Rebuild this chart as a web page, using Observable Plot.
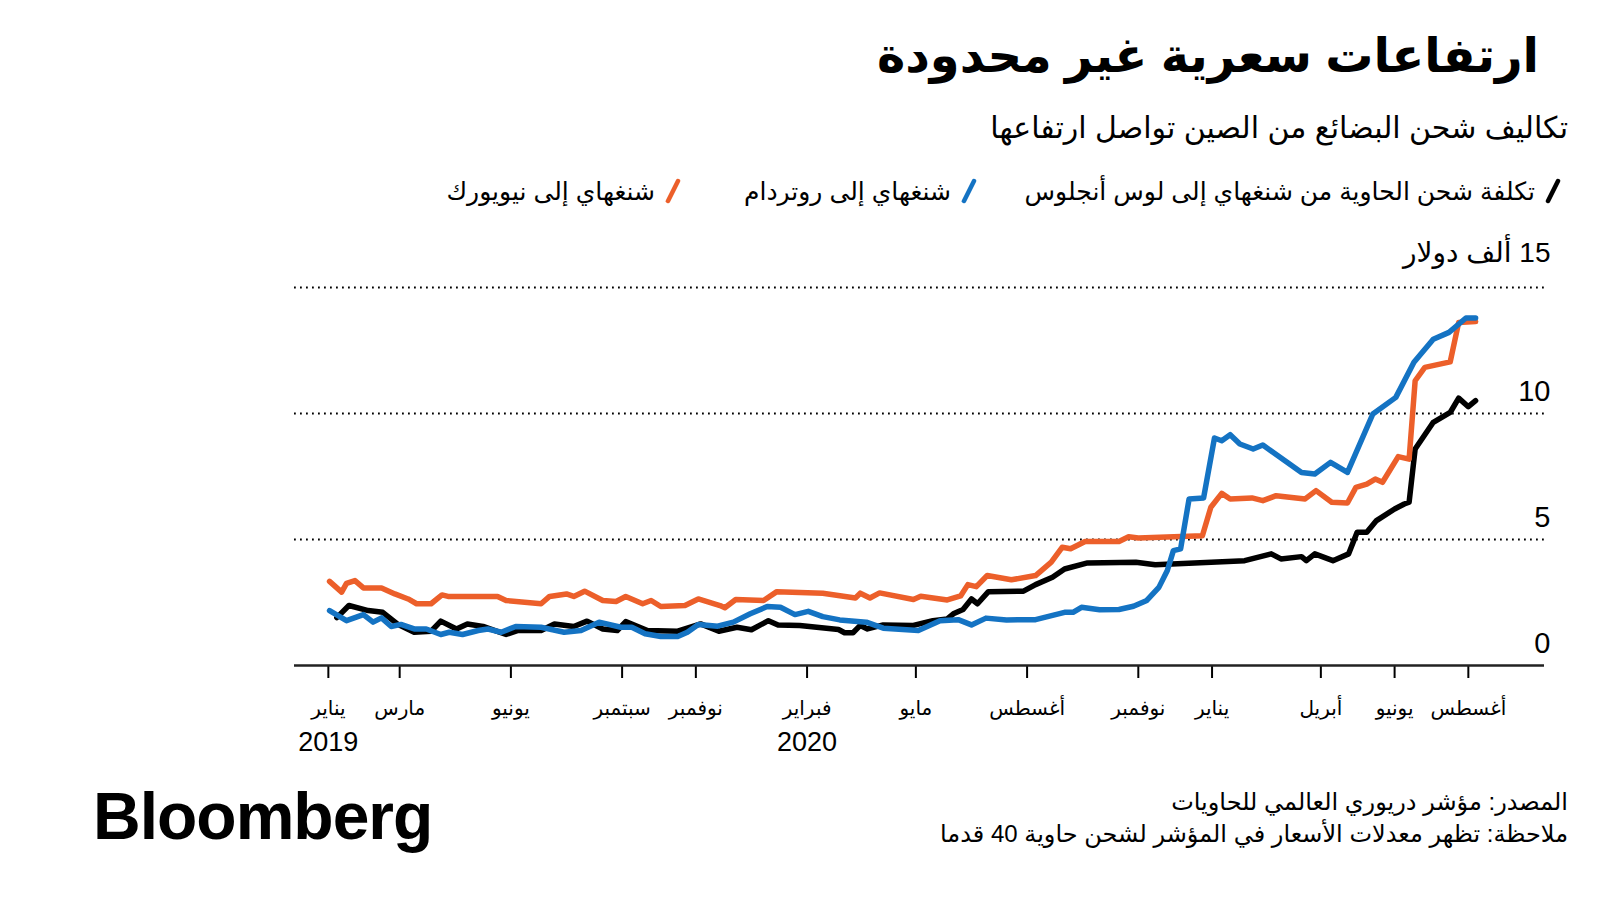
<!DOCTYPE html>
<html lang="ar">
<head>
<meta charset="utf-8">
<script src="https://cdn.jsdelivr.net/npm/d3@7"></script>
<script src="https://cdn.jsdelivr.net/npm/@observablehq/plot@0.6"></script>
<style>
  html, body { margin: 0; padding: 0; background: #fff; }
  body { width: 1600px; height: 900px; position: relative; overflow: hidden;
         font-family: "Liberation Sans", "DejaVu Sans", sans-serif; color: #000; }
  .abs { position: absolute; white-space: nowrap; line-height: 1; }
  .rtl { direction: rtl; text-align: right; }
  #title { right: 61px; top: 32px; font-size: 48px; font-weight: bold; }
  #subtitle { right: 32px; top: 113px; font-size: 30px; }
  .legend-item { top: 178px; font-size: 25px; display: flex; flex-direction: row-reverse; align-items: center; gap: 10px; }
  #chart { position: absolute; left: 0; top: 230px; }
  #source { right: 32px; top: 790px; font-size: 24px; }
  #note { right: 32px; top: 822px; font-size: 24px; }
  #logo { left: 93px; top: 783px; font-size: 66px; font-weight: bold; letter-spacing: -1px; font-family: "Liberation Sans", Arial, sans-serif; }
  [aria-label="x-axis tick"] { stroke-width: 2px; }
  g[aria-label="x-axis"] line { stroke-width: 2px; }
</style>
</head>
<body>
<div id="title" class="abs rtl">ارتفاعات سعرية غير محدودة</div>
<div id="subtitle" class="abs rtl">تكاليف شحن البضائع من الصين تواصل ارتفاعها</div>
<div id="legend"></div>
<div id="chart"></div>
<div id="source" class="abs rtl">المصدر: مؤشر دريوري العالمي للحاويات</div>
<div id="note" class="abs rtl">ملاحظة: تظهر معدلات الأسعار في المؤشر لشحن حاوية 40 قدما</div>
<div id="logo" class="abs">Bloomberg</div>
<script>
// ---- Data (thousand USD per 40ft container) ----
const seriesNames = [
  "تكلفة شحن الحاوية من شنغهاي إلى لوس أنجلوس",
  "شنغهاي إلى روتردام",
  "شنغهاي إلى نيويورك"
];
const seriesColors = ["#000000", "#1473c3", "#ec5f2a"];

const shanghaiLosAngeles = [
  ["2019-01-08",1.90],["2019-01-18",2.38],["2019-02-03",2.18],["2019-02-15",2.11],["2019-02-27",1.65],
  ["2019-03-13",1.32],["2019-03-27",1.36],["2019-04-04",1.76],["2019-04-17",1.45],["2019-04-26",1.65],
  ["2019-05-09",1.55],["2019-05-28",1.23],["2019-06-07",1.39],["2019-06-26",1.39],["2019-07-07",1.65],
  ["2019-07-23",1.55],["2019-08-03",1.76],["2019-08-16",1.45],["2019-08-28",1.39],["2019-09-04",1.74],
  ["2019-09-22",1.39],["2019-10-17",1.36],["2019-11-05",1.65],["2019-11-20",1.36],["2019-12-05",1.52],
  ["2019-12-17",1.42],["2019-12-31",1.78],["2020-01-08",1.61],["2020-01-26",1.59],["2020-02-27",1.43],
  ["2020-03-03",1.30],["2020-03-10",1.30],["2020-03-16",1.59],["2020-03-22",1.45],["2020-04-04",1.61],
  ["2020-04-29",1.59],["2020-05-15",1.78],["2020-05-27",1.85],["2020-06-01",2.05],["2020-06-09",2.22],
  ["2020-06-16",2.64],["2020-06-21",2.45],["2020-06-30",2.93],["2020-07-29",2.95],["2020-08-08",3.21],
  ["2020-08-22",3.50],["2020-09-01",3.83],["2020-09-20",4.07],["2020-10-30",4.10],["2020-11-15",4.00],
  ["2021-01-28",4.16],["2021-02-19",4.43],["2021-02-27",4.23],["2021-03-16",4.32],["2021-03-20",4.16],
  ["2021-03-27",4.43],["2021-04-11",4.16],["2021-04-24",4.43],["2021-05-01",5.29],["2021-05-09",5.29],
  ["2021-05-17",5.75],["2021-06-01",6.21],["2021-06-09",6.41],["2021-06-13",6.48],["2021-06-18",8.59],
  ["2021-07-03",9.65],["2021-07-17",10.04],["2021-07-24",10.61],["2021-08-01",10.27],["2021-08-07",10.51]
];

const shanghaiRotterdam = [
  ["2019-01-02",2.18],["2019-01-16",1.78],["2019-01-30",2.02],["2019-02-07",1.72],["2019-02-14",1.89],
  ["2019-02-22",1.55],["2019-03-02",1.63],["2019-03-13",1.45],["2019-03-23",1.45],["2019-04-04",1.23],
  ["2019-04-11",1.32],["2019-04-22",1.23],["2019-05-05",1.39],["2019-05-13",1.45],["2019-05-24",1.32],
  ["2019-06-05",1.55],["2019-06-26",1.52],["2019-07-15",1.32],["2019-07-29",1.39],["2019-08-13",1.72],
  ["2019-08-31",1.52],["2019-09-09",1.52],["2019-09-20",1.26],["2019-10-03",1.15],["2019-10-17",1.15],
  ["2019-10-25",1.32],["2019-11-03",1.63],["2019-11-19",1.56],["2019-12-02",1.72],["2019-12-16",2.05],
  ["2019-12-30",2.34],["2020-01-10",2.31],["2020-01-22",2.02],["2020-02-02",2.15],["2020-02-14",1.94],
  ["2020-02-28",1.81],["2020-03-21",1.72],["2020-04-04",1.48],["2020-05-03",1.39],["2020-05-21",1.78],
  ["2020-06-05",1.82],["2020-06-16",1.61],["2020-06-28",1.88],["2020-07-15",1.81],["2020-08-08",1.82],
  ["2020-09-01",2.11],["2020-09-08",2.11],["2020-09-15",2.31],["2020-09-30",2.21],["2020-10-16",2.22],
  ["2020-10-28",2.35],["2020-11-08",2.58],["2020-11-18",3.10],["2020-11-25",3.77],["2020-11-30",4.56],
  ["2020-12-06",4.63],["2020-12-13",6.61],["2020-12-25",6.65],["2021-01-03",9.03],["2021-01-09",8.92],
  ["2021-01-16",9.16],["2021-01-24",8.79],["2021-02-04",8.59],["2021-02-12",8.75],["2021-03-16",7.66],
  ["2021-03-27",7.60],["2021-04-09",8.06],["2021-04-23",7.66],["2021-05-14",9.98],["2021-06-02",10.64],
  ["2021-06-17",12.03],["2021-07-03",12.95],["2021-07-16",13.22],["2021-07-30",13.79],["2021-08-07",13.79]
];

const shanghaiNewYork = [
  ["2019-01-02",3.34],["2019-01-12",2.91],["2019-01-16",3.26],["2019-01-23",3.37],["2019-01-30",3.08],
  ["2019-02-14",3.08],["2019-02-25",2.84],["2019-03-08",2.64],["2019-03-15",2.45],["2019-03-27",2.45],
  ["2019-04-05",2.80],["2019-04-10",2.74],["2019-05-21",2.74],["2019-05-28",2.58],["2019-06-26",2.45],
  ["2019-07-03",2.74],["2019-07-17",2.84],["2019-07-23",2.74],["2019-08-01",2.95],["2019-08-16",2.58],
  ["2019-08-27",2.54],["2019-09-04",2.74],["2019-09-18",2.45],["2019-09-25",2.58],["2019-10-03",2.34],
  ["2019-10-23",2.38],["2019-11-03",2.64],["2019-11-21",2.38],["2019-11-25",2.29],["2019-12-04",2.62],
  ["2019-12-27",2.58],["2020-01-07",2.93],["2020-02-14",2.87],["2020-03-12",2.68],["2020-03-16",2.87],
  ["2020-03-24",2.68],["2020-04-01",2.88],["2020-04-29",2.62],["2020-05-05",2.75],["2020-05-27",2.60],
  ["2020-06-07",2.76],["2020-06-13",3.21],["2020-06-20",3.13],["2020-06-29",3.57],["2020-07-19",3.40],
  ["2020-08-08",3.57],["2020-08-21",4.10],["2020-08-30",4.69],["2020-09-06",4.63],["2020-09-18",4.92],
  ["2020-10-16",4.92],["2020-10-24",5.11],["2020-11-01",5.06],["2020-12-24",5.15],["2020-12-31",6.28],
  ["2021-01-09",6.83],["2021-01-16",6.61],["2021-02-03",6.65],["2021-02-12",6.54],["2021-02-23",6.74],
  ["2021-03-19",6.61],["2021-03-28",6.94],["2021-04-10",6.48],["2021-04-23",6.45],["2021-04-30",7.07],
  ["2021-05-09",7.20],["2021-05-16",7.40],["2021-05-22",7.27],["2021-06-04",8.29],["2021-06-13",8.19],
  ["2021-06-18",11.30],["2021-06-26",11.83],["2021-07-17",12.05],["2021-07-24",13.61],["2021-08-07",13.65]
];

const xTickDates = ["2019-01-01","2019-03-01","2019-06-01","2019-09-01","2019-11-01","2020-02-01",
  "2020-05-01","2020-08-01","2020-11-01","2021-01-01","2021-04-01","2021-06-01","2021-08-01"];
const xTickLabels = ["يناير","مارس","يونيو","سبتمبر","نوفمبر","فبراير","مايو","أغسطس","نوفمبر","يناير","أبريل","يونيو","أغسطس"];
const yearTickDates = ["2019-01-01","2020-02-01"];
const yearTickLabels = ["2019","2020"];
const yTicks = [0, 5, 10, 15];
const yUnitLabel = "ألف دولار";

// ---- Build ----
const toRows = (arr, name) => arr.map(([d, v]) => ({date: new Date(d), value: v, series: name}));
const rowsLA = toRows(shanghaiLosAngeles, seriesNames[0]);
const rowsRT = toRows(shanghaiRotterdam, seriesNames[1]);
const rowsNY = toRows(shanghaiNewYork, seriesNames[2]);

const tickDates = xTickDates.map(d => new Date(d));
const labelByTime = new Map(tickDates.map((d, i) => [+d, xTickLabels[i]]));
const years = yearTickDates.map((d, i) => ({date: new Date(d), label: yearTickLabels[i]}));

const lineOpts = (color) => ({x: "date", y: "value", stroke: color, strokeWidth: 5.5,
  strokeLinejoin: "round", strokeLinecap: "round"});

const chart = Plot.plot({
  width: 1600,
  height: 530,
  marginLeft: 294,
  marginRight: 56,
  marginTop: 57,
  marginBottom: 95,
  style: {fontFamily: '"Liberation Sans","DejaVu Sans",sans-serif', fontSize: "20px", color: "#000", background: "transparent", overflow: "visible"},
  x: {type: "utc", domain: [new Date("2018-12-04"), new Date("2021-10-03")],
      ticks: tickDates, tickFormat: d => labelByTime.get(+d), tickSize: 13, tickPadding: 22, label: null},
  y: {domain: [0, 15], axis: null},
  marks: [
    Plot.ruleY(yTicks.filter(v => v > 0), {stroke: "#000", strokeWidth: 1.8, strokeDasharray: "1.8,4.2"}),
    Plot.ruleY([0], {stroke: "#222", strokeWidth: 2.5}),
    Plot.text(yTicks.filter(v => v < 15), {y: d => d, text: d => String(d), frameAnchor: "right",
      textAnchor: "end", dx: 6, dy: -22, fontSize: 29, fill: "#000"}),
    Plot.text(yTicks.filter(v => v === 15), {y: d => d, text: d => "\u202B" + d + " " + yUnitLabel + "\u202C",
      frameAnchor: "right", textAnchor: "end", dx: 6, dy: -34, fontSize: 28, fill: "#000"}),
    Plot.text(years, {x: "date", text: "label", frameAnchor: "bottom", dy: 85, fontSize: 27, fill: "#000"}),
    Plot.line(rowsLA, lineOpts(seriesColors[0])),
    Plot.line(rowsNY, lineOpts(seriesColors[2])),
    Plot.line(rowsRT, lineOpts(seriesColors[1]))
  ]
});
document.getElementById("chart").appendChild(chart);

// ---- Legend ----
const legendRights = [39, 623, 919];
const legend = document.getElementById("legend");
seriesNames.forEach((name, i) => {
  const item = document.createElement("div");
  item.className = "abs legend-item";
  item.style.right = legendRights[i] + "px";
  item.innerHTML = `<svg width="16" height="26" viewBox="0 0 16 26"><line x1="3" y1="23" x2="13" y2="3" stroke="${seriesColors[i]}" stroke-width="4.5" stroke-linecap="round"/></svg><span dir="rtl">${name}</span>`;
  legend.appendChild(item);
});
</script>
</body>
</html>
